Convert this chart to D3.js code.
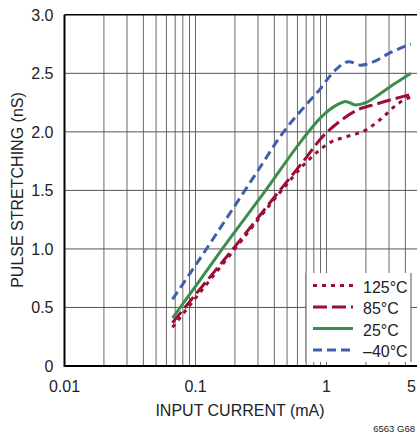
<!DOCTYPE html>
<html><head><meta charset="utf-8">
<script src="https://cdn.jsdelivr.net/npm/d3@7"></script>
<style>body{margin:0;background:#fff}svg{display:block}text{font-family:"Liberation Sans",Arial,sans-serif;fill:#222}</style>
</head><body><svg id="c" width="417" height="434"></svg>
<script>
const xTickValues = [0.01, 0.1, 1, 5];
const xTickLabels = ["0.01", "0.1", "1", "5"];
const yTickValues = [0, 0.5, 1, 1.5, 2, 2.5, 3];
const yTickLabels = ["0", "0.5", "1.0", "1.5", "2.0", "2.5", "3.0"];
const xGrid = [0.02,0.03,0.04,0.05,0.06,0.07,0.08,0.09,0.1,0.2,0.3,0.4,0.5,0.6,0.7,0.8,0.9,1,2,3,4];
const yGrid = [0.5, 1, 1.5, 2, 2.5];

const seriesNames = ["125°C", "85°C", "25°C", "–40°C"];
const current125 = [0.0667,0.1,0.2,0.44,0.7,1.07,1.43,2.03,2.6,3.5,4.4];
const pulse125   = [0.33,0.58,1.0,1.48,1.74,1.91,1.96,2.02,2.11,2.24,2.30];
const current85  = [0.0667,0.1,0.2,0.44,0.7,0.9,1.23,1.67,2.44,4.4];
const pulse85    = [0.37,0.61,1.02,1.5,1.78,1.94,2.08,2.18,2.24,2.32];
const current25  = [0.0667,0.1,0.16,0.343,0.65,0.9,1.2,1.4,1.67,2.0,2.6,3.3,4.4];
const pulse25    = [0.41,0.68,1.0,1.5,1.93,2.12,2.23,2.26,2.23,2.25,2.33,2.41,2.50];
const currentM40 = [0.0667,0.1,0.2,0.3,0.47,0.75,0.9,1.0,1.2,1.48,1.82,2.3,3.0,4.4];
const pulseM40   = [0.57,0.86,1.37,1.67,2.0,2.27,2.37,2.44,2.54,2.60,2.57,2.60,2.67,2.75];

const styles = [
  {color:"#9c0f35", dash:"4,5"},
  {color:"#9c0f35", dash:"14,5"},
  {color:"#3c8e50", dash:null},
  {color:"#3f5eaf", dash:"9,5"}
];
const series = [
  {name:seriesNames[0], xs:current125, ys:pulse125},
  {name:seriesNames[1], xs:current85, ys:pulse85},
  {name:seriesNames[2], xs:current25, ys:pulse25},
  {name:seriesNames[3], xs:currentM40, ys:pulseM40}
];

const svg = d3.select("#c");
const L = 64.5, T = 14.8, B = 366, decade = 131;
const x = d3.scaleLog().domain([0.01, 5]).range([L, L + decade * Math.log10(500)]);
const y = d3.scaleLinear().domain([0, 3]).range([B, T]);
const R = x(5);

// grid
svg.append("g").selectAll("line").data(xGrid).join("line")
  .attr("x1", d => x(d)).attr("x2", d => x(d)).attr("y1", T).attr("y2", B)
  .attr("stroke", "#6a6a6a").attr("stroke-width", 1);
svg.append("g").selectAll("line").data(yGrid).join("line")
  .attr("x1", L).attr("x2", R).attr("y1", d => y(d)).attr("y2", d => y(d))
  .attr("stroke", "#555").attr("stroke-width", 1);

// legend box
const lg = svg.append("g");
lg.append("rect").attr("x", 306).attr("y", 273).attr("width", 105).attr("height", 89).attr("fill", "#fff");
lg.append("line").attr("x1", 306).attr("x2", 306).attr("y1", 273).attr("y2", 362).attr("stroke", "#555");
lg.append("line").attr("x1", 411).attr("x2", 411).attr("y1", 273).attr("y2", 362).attr("stroke", "#555");

// curves
const line = d3.line().x(d => x(d[0])).y(d => y(d[1])).curve(d3.curveMonotoneX);
series.forEach((s, i) => {
  const pts = s.xs.map((v, k) => [v, s.ys[k]]);
  svg.append("path").attr("d", line(pts)).attr("fill", "none")
    .attr("stroke", styles[i].color).attr("stroke-width", 3)
    .attr("stroke-dasharray", styles[i].dash);
});

// legend entries
const ly = d3.scaleLinear().domain([0, 3]).range([285.5, 350]);
series.forEach((s, i) => {
  lg.append("line").attr("x1", 313).attr("x2", 353).attr("y1", ly(i)).attr("y2", ly(i))
    .attr("stroke", styles[i].color).attr("stroke-width", 3).attr("stroke-dasharray", styles[i].dash);
  lg.append("text").attr("x", 363).attr("y", ly(i) + 7).attr("font-size", 16).text(s.name);
});

// frame
svg.append("line").attr("x1", L).attr("x2", L).attr("y1", T).attr("y2", B + 1).attr("stroke", "#000").attr("stroke-width", 2);
svg.append("line").attr("x1", L).attr("x2", R).attr("y1", B).attr("y2", B).attr("stroke", "#000").attr("stroke-width", 2);
svg.append("line").attr("x1", L).attr("x2", R).attr("y1", T).attr("y2", T).attr("stroke", "#000").attr("stroke-width", 1.5);

// tick labels
svg.append("g").selectAll("text").data(xTickValues).join("text")
  .attr("x", d => Math.min(x(d), 416)).attr("y", 391.5)
  .attr("text-anchor", d => x(d) > 410 ? "end" : "middle").attr("font-size", 16)
  .text((d, i) => xTickLabels[i]);
svg.append("g").selectAll("text").data(yTickValues).join("text")
  .attr("x", 53.5).attr("y", d => y(d) + 6).attr("text-anchor", "end").attr("font-size", 16)
  .text((d, i) => yTickLabels[i]);

// titles
svg.append("text").attr("x", 240).attr("y", 416).attr("text-anchor", "middle").attr("font-size", 16)
  .text("INPUT CURRENT (mA)");
svg.append("text").attr("transform", "translate(22.5,190) rotate(-90)").attr("text-anchor", "middle").attr("font-size", 16)
  .text("PULSE STRETCHING (nS)");
svg.append("text").attr("x", 415).attr("y", 431.5).attr("text-anchor", "end").attr("font-size", 9.5)
  .text("6563 G68");
</script></body></html>
